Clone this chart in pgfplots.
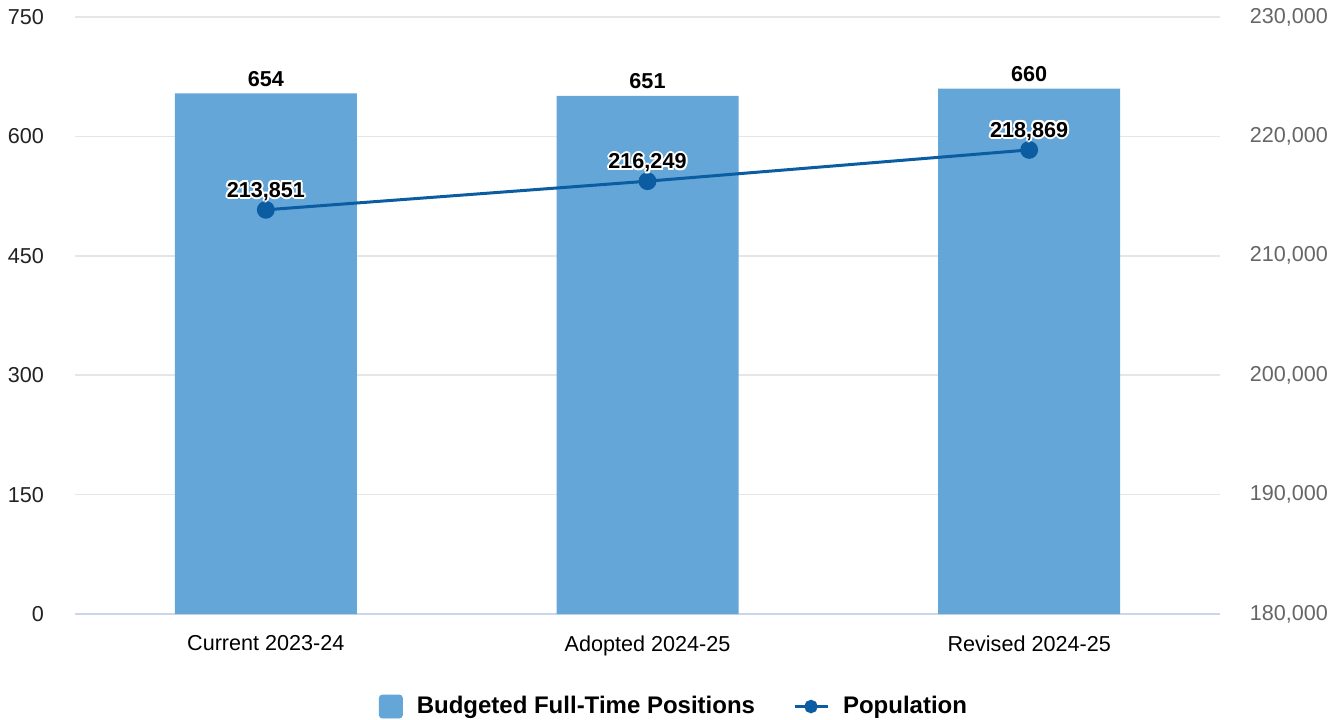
\documentclass[border=0pt]{standalone}
\usepackage{fontspec}
\setmainfont{Liberation Sans}
\usepackage{pgfplots}
\pgfplotsset{compat=1.18}
\definecolor{barc}{HTML}{63A6D7}
\definecolor{linec}{HTML}{0B5CA1}
\definecolor{gridc}{HTML}{E6E6E6}
\definecolor{axc}{HTML}{CCD6EB}
\definecolor{rtick}{HTML}{666666}
\definecolor{tickl}{HTML}{222222}
\newcommand\hl[3]{\rlap{\kern#1\raisebox{#2}{\color{white}#3}}}
\newcommand\halo[1]{\hl{1pt}{0pt}{#1}\hl{-1pt}{0pt}{#1}\hl{0pt}{1pt}{#1}\hl{0pt}{-1pt}{#1}\hl{0.7pt}{0.7pt}{#1}\hl{-0.7pt}{0.7pt}{#1}\hl{0.7pt}{-0.7pt}{#1}\hl{-0.7pt}{-0.7pt}{#1}#1}
\begin{document}
\begin{tikzpicture}
\begin{axis}[
 scale only axis, width=572.5pt, height=298.5pt,
 xmin=-0.5, xmax=2.5, ymin=0, ymax=750,
 xtick={0,1,2}, xticklabels={Current 2023-24,Adopted 2024-25,Revised 2024-25},
 ytick={0,150,...,750},
 ymajorgrids, grid style={draw=gridc, line width=0.8pt},
 axis x line*=bottom, axis y line*=left,
 x axis line style={draw=axc, line width=0.8pt, -},
 y axis line style={draw=none},
 major tick length=0pt,
 tick label style={font=\fontsize{10.8}{13}\selectfont},
 /pgf/number format/assume math mode=true,
 xticklabel style={yshift=-7.4pt, text=black},
 yticklabel style={xshift=-12pt, text=tickl},
 ybar, bar width=91pt,
 nodes near coords,
 nodes near coords style={font=\bfseries\fontsize{10.8}{13}\selectfont, text=black},
 clip=false,
]
\addplot[fill=barc, draw=none] coordinates {(0,654) (1,651) (2,660)};
\end{axis}
\begin{axis}[
 scale only axis, width=572.5pt, height=298.5pt,
 xmin=-0.5, xmax=2.5, ymin=180000, ymax=230000,
 ytick={180000,190000,...,230000},
 axis x line=none, axis y line*=right, y axis line style={draw=none},
 major tick length=0pt, scaled y ticks=false,
 /pgf/number format/fixed, /pgf/number format/precision=0,
 /pgf/number format/1000 sep={,},
 /pgf/number format/assume math mode=true,
 yticklabel style={xshift=11.4pt, text=rtick, font=\fontsize{10.8}{13}\selectfont},
 clip=false,
 legend style={at={(0.524,-0.155)}, anchor=center, draw=none, fill=none,
   font=\bfseries\fontsize{12}{14}\selectfont, legend columns=2,
   /tikz/every odd column/.append style={column sep=5pt},
   /tikz/every even column/.append style={column sep=17pt}},
]
\addlegendimage{legend image code/.code={\fill[barc, rounded corners=1.5pt] (0pt,-5.75pt) rectangle (11.5pt,5.75pt);}}
\addlegendentry{Budgeted Full-Time Positions}
\addplot[linec, line width=1.5pt, mark=*, mark size=3.7pt, mark options={fill=linec, draw=linec},
  nodes near coords={\halo{\pgfmathprintnumber{\pgfplotspointmeta}}},
  nodes near coords style={font=\bfseries\fontsize{10.8}{13}\selectfont, text=black, anchor=south, yshift=-0.5pt},
  legend image code/.code={\draw[linec,line width=1.5pt] (0pt,0pt) -- (16.5pt,0pt); \fill[linec] (8.25pt,0pt) circle (2.6pt);}]
  coordinates {(0,213851) (1,216249) (2,218869)};
\addlegendentry{Population}
\end{axis}
\pgfresetboundingbox
\path[use as bounding box] (-37.5pt,-52.5pt) rectangle (634.5pt,307pt);
\end{tikzpicture}
\end{document}
